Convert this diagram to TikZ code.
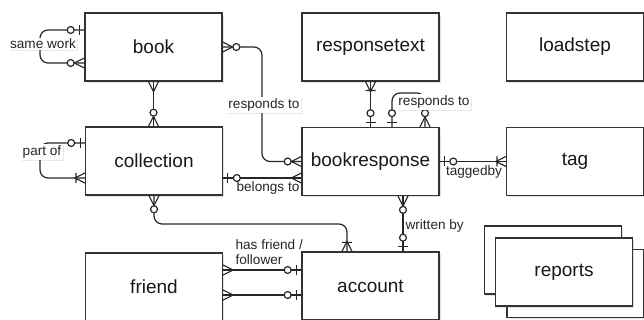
\documentclass[tikz,border=0pt]{standalone}
\usepackage{fontspec}
\setmainfont{Liberation Sans}
\usetikzlibrary{arrows.meta,shadows,calc}

% ---- ER notation arrow tips ----
\pgfdeclarearrow{
  name = ERm,
  setup code = {
    \pgfarrowssettipend{0pt}\pgfarrowssetlineend{0pt}
    \pgfarrowssetbackend{-7.5pt}\pgfarrowssetvisualbackend{-7.5pt}
    \pgfarrowsupperhullpoint{0pt}{4pt}\pgfarrowsupperhullpoint{-7.5pt}{4pt}
  },
  drawing code = {
    \pgfsetdash{}{0pt}
    \pgfpathmoveto{\pgfqpoint{0pt}{3.75pt}}\pgfpathlineto{\pgfqpoint{-7.5pt}{0pt}}
    \pgfpathlineto{\pgfqpoint{0pt}{-3.75pt}}
    \pgfusepathqstroke
  }
}
\pgfdeclarearrow{
  name = ERzm,
  setup code = {
    \pgfarrowssettipend{0pt}\pgfarrowssetlineend{0pt}
    \pgfarrowssetbackend{-13.5pt}\pgfarrowssetvisualbackend{-13.5pt}
    \pgfarrowsupperhullpoint{0pt}{4pt}\pgfarrowsupperhullpoint{-13.5pt}{4pt}
  },
  drawing code = {
    \pgfsetdash{}{0pt}
    \pgfpathmoveto{\pgfqpoint{0pt}{3.75pt}}\pgfpathlineto{\pgfqpoint{-7.5pt}{0pt}}
    \pgfpathlineto{\pgfqpoint{0pt}{-3.75pt}}
    \pgfusepathqstroke
    \pgfpathcircle{\pgfqpoint{-10.3pt}{0pt}}{2.6pt}
    \pgfsetfillcolor{white}
    \pgfusepathqfillstroke
  }
}
\pgfdeclarearrow{
  name = ERom,
  setup code = {
    \pgfarrowssettipend{0pt}\pgfarrowssetlineend{0pt}
    \pgfarrowssetbackend{-8pt}\pgfarrowssetvisualbackend{-8pt}
    \pgfarrowsupperhullpoint{0pt}{4pt}\pgfarrowsupperhullpoint{-8pt}{4pt}
  },
  drawing code = {
    \pgfsetdash{}{0pt}
    \pgfpathmoveto{\pgfqpoint{0pt}{3.75pt}}\pgfpathlineto{\pgfqpoint{-7.5pt}{0pt}}
    \pgfpathlineto{\pgfqpoint{0pt}{-3.75pt}}
    \pgfpathmoveto{\pgfqpoint{-6.75pt}{3.75pt}}\pgfpathlineto{\pgfqpoint{-6.75pt}{-3.75pt}}
    \pgfusepathqstroke
  }
}
\pgfdeclarearrow{
  name = ERzo,
  setup code = {
    \pgfarrowssettipend{0pt}\pgfarrowssetlineend{0pt}
    \pgfarrowssetbackend{-13.5pt}\pgfarrowssetvisualbackend{-13.5pt}
    \pgfarrowsupperhullpoint{0pt}{4pt}\pgfarrowsupperhullpoint{-13.5pt}{4pt}
  },
  drawing code = {
    \pgfsetdash{}{0pt}
    \pgfpathmoveto{\pgfqpoint{-3.5pt}{3.75pt}}\pgfpathlineto{\pgfqpoint{-3.5pt}{-3.75pt}}
    \pgfusepathqstroke
    \pgfpathcircle{\pgfqpoint{-10.3pt}{0pt}}{2.6pt}
    \pgfsetfillcolor{white}
    \pgfusepathqfillstroke
  }
}

\begin{document}
\begin{tikzpicture}[x=0.75pt,y=-0.75pt,
  entity/.style={draw=black!80, line width=0.9pt, fill=white,
    minimum width=102.75pt, minimum height=51pt, inner sep=0pt,
    font=\fontsize{14.25}{16}\selectfont, text=black!90,
    drop shadow={shadow xshift=1.3pt, shadow yshift=-1.3pt, opacity=0.22}},
  plainbox/.style={draw=black!80, line width=0.9pt, fill=white,
    minimum width=102.75pt, minimum height=51pt, inner sep=0pt,
    font=\fontsize{14.25}{16}\selectfont, text=black!90,
    drop shadow={shadow xshift=1.3pt, shadow yshift=-1.3pt, opacity=0.22}},
  rel/.style={draw=black!85, line width=0.9pt, rounded corners=6pt},
  lbl/.style={font=\fontsize{10.2}{11.25}\selectfont, text=black!85, inner sep=1pt},
  lblbox/.style={lbl, fill=white,
    drop shadow={shadow xshift=0.8pt, shadow yshift=-0.8pt, opacity=0.18}}]

\useasboundingbox (0,0) rectangle (644,320);

% ---- entities ----
\node[entity] (book) at (153.5,47) {book};
\node[entity] (responsetext) at (370.5,47) {responsetext};
\node[entity] (loadstep) at (575,47) {loadstep};
\node[entity] (collection) at (154,161) {collection};
\node[entity] (bookresponse) at (370.5,161.5) {bookresponse};
\node[entity] (tag) at (575,161.5) {tag};
\node[entity] (friend) at (154,287) {friend};
\node[entity] (account) at (370.5,286) {account};

% reports (stacked)
\node[plainbox] (repback) at (553,260) {};
\node[plainbox] (repfront) at (575.5,283.5) {};
\node[plainbox] (reports) at (564,272) {reports};

% ---- relationships ----
% book self loop: same work
\draw[rel,{ERzo}-{ERzm}] ($(book.west)+(0,-17)$) -- (40,30) -- (40,63) -- ($(book.west)+(0,16)$);
\node[lblbox] (lsame) at (43,44) {same work};

% book -- collection
\draw[rel,{ERm}-{ERzm}] (book.south) -- (book.south |- collection.north);

% book -- bookresponse : responds to
\draw[rel,{ERzm}-{ERzm}] (book.east) -- (262,47) -- (262,161.5) -- (bookresponse.west);
\node[lblbox] (lresp1) at (264,105) {responds to};

% responsetext -- bookresponse
\draw[rel,{ERom}-{ERzo}] (responsetext.south) -- (bookresponse.north);

% bookresponse self loop : responds to
\draw[rel,{ERzo}-{ERzm}] ($(bookresponse.north)+(21.5,0)$) -- (392,93) -- (425,93) -- ($(bookresponse.north)+(54.5,0)$);
\node[lblbox] (lresp2) at (434,102) {responds to};

% collection self loop : part of
\draw[rel,{ERzo}-{ERom}] ($(collection.west)+(0,-18)$) -- (40,143) -- (40,178) -- ($(collection.west)+(0,17)$);
\node[lblbox] (lpart) at (42,152) {part of};

% collection -- bookresponse : belongs to
\coordinate (cb) at ($(collection.east)+(0,17)$);
\draw[rel,{ERzo}-{ERm}] (cb) -- (cb -| bookresponse.west);
\node[lbl] (lbelong) at (268,188) {belongs to};

% collection -- account
\draw[rel,{ERzm}-{ERom}] (collection.south) -- (154,224) -- (347,224) -- ($(account.north)+(-23.5,0)$);

% bookresponse -- account : written by
\draw[rel,{ERzm}-{ERzo}] ($(bookresponse.south)+(32.5,0)$) -- ($(account.north)+(32.5,0)$);
\node[lbl, anchor=west] (lwritten) at (404,226) {written by};

% bookresponse -- tag : taggedby
\draw[rel,{ERzo}-{ERom}] (bookresponse.east) -- (tag.west);
\node[lbl] (ltag) at (474,172) {taggedby};

% friend -- account
\coordinate (f1) at ($(friend.east)+(0,-17)$);
\coordinate (f2) at ($(friend.east)+(0,8)$);
\draw[rel,{ERm}-{ERzo}] (f1) -- (f1 -| account.west);
\draw[rel,{ERm}-{ERzo}] (f2) -- (f2 -| account.west);
\node[lbl, anchor=north west, align=left] (lfriend) at (234,238) {has friend /\\follower};

\end{tikzpicture}
\end{document}
